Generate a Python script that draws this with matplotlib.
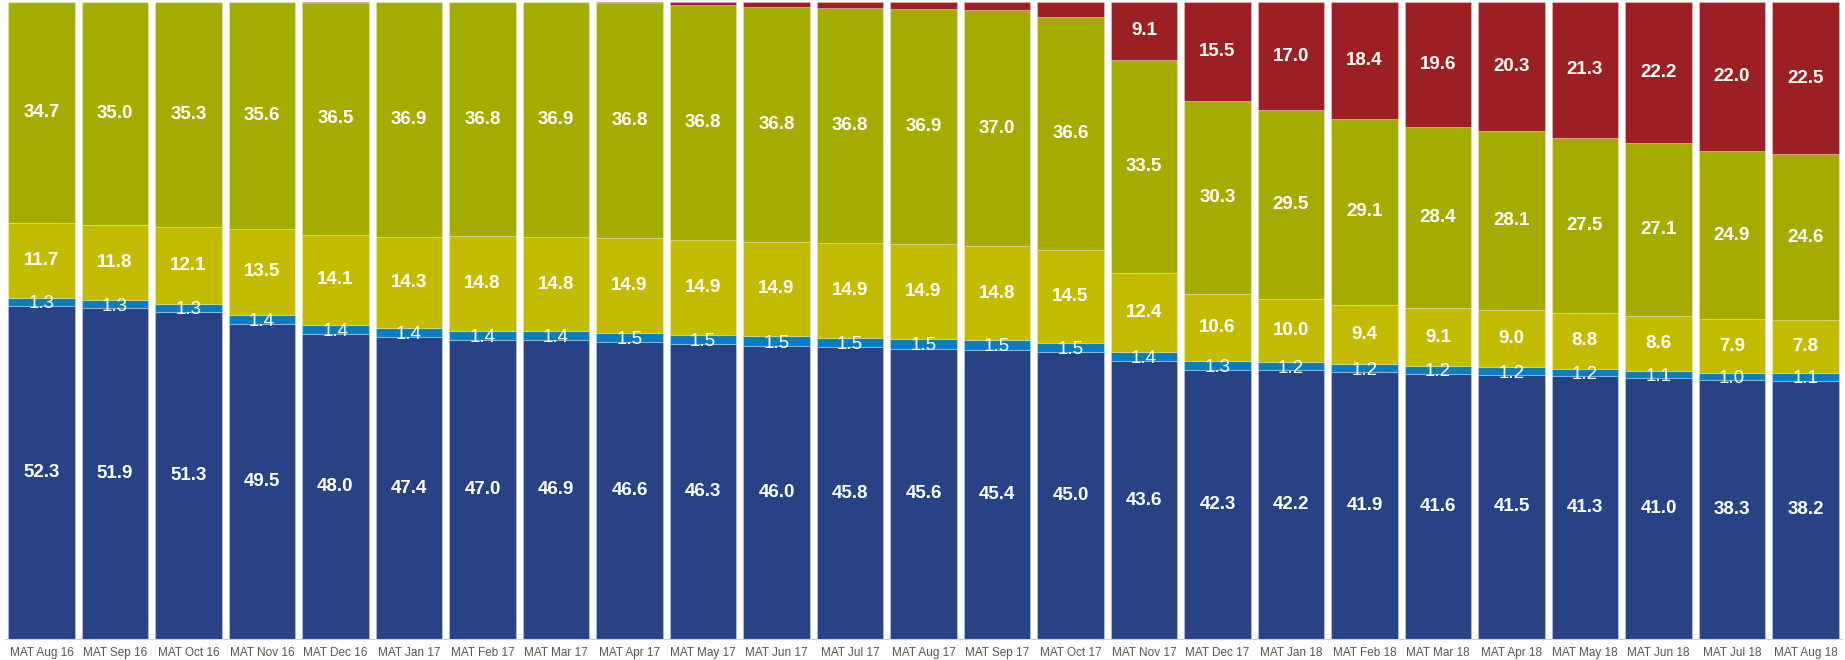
import numpy as np
import matplotlib.pyplot as plt

plt.rcParams['font.family'] = ['Liberation Sans', 'DejaVu Sans']

# periods
labels = ['MAT Aug 16', 'MAT Sep 16', 'MAT Oct 16', 'MAT Nov 16', 'MAT Dec 16',
          'MAT Jan 17', 'MAT Feb 17', 'MAT Mar 17', 'MAT Apr 17', 'MAT May 17',
          'MAT Jun 17', 'MAT Jul 17', 'MAT Aug 17', 'MAT Sep 17', 'MAT Oct 17',
          'MAT Nov 17', 'MAT Dec 17', 'MAT Jan 18', 'MAT Feb 18', 'MAT Mar 18',
          'MAT Apr 18', 'MAT May 18', 'MAT Jun 18', 'MAT Jul 18', 'MAT Aug 18']

# series, bottom to top
dark_blue = [52.3, 51.9, 51.3, 49.5, 48.0, 47.4, 47.0, 46.9, 46.6, 46.3, 46.0, 45.8, 45.6,
             45.4, 45.0, 43.6, 42.3, 42.2, 41.9, 41.6, 41.5, 41.3, 41.0, 38.3, 38.2]
light_blue = [1.3, 1.3, 1.3, 1.4, 1.4, 1.4, 1.4, 1.4, 1.5, 1.5, 1.5, 1.5, 1.5,
              1.5, 1.5, 1.4, 1.3, 1.2, 1.2, 1.2, 1.2, 1.2, 1.1, 1.0, 1.1]
yellow = [11.7, 11.8, 12.1, 13.5, 14.1, 14.3, 14.8, 14.8, 14.9, 14.9, 14.9, 14.9, 14.9,
          14.8, 14.5, 12.4, 10.6, 10.0, 9.4, 9.1, 9.0, 8.8, 8.6, 7.9, 7.8]
olive = [34.7, 35.0, 35.3, 35.6, 36.5, 36.9, 36.8, 36.9, 36.8, 36.8, 36.8, 36.8, 36.9,
         37.0, 36.6, 33.5, 30.3, 29.5, 29.1, 28.4, 28.1, 27.5, 27.1, 24.9, 24.6]
red = [0.0, 0.0, 0.0, 0.0, 0.1, 0.0, 0.0, 0.0, 0.2, 0.5, 0.8, 1.0, 1.1,
       1.3, 2.4, 9.1, 15.5, 17.0, 18.4, 19.6, 20.3, 21.3, 22.2, 22.0, 22.5]

series = [dark_blue, light_blue, yellow, olive, red]
colors = ['#284285', '#0a7dc2', '#c2bb00', '#a4ac00', '#9c1f24']

data = np.array(series)
totals = data.sum(axis=0)
pct = data / totals * 100.0

fig = plt.figure(figsize=(18.45, 6.6), dpi=100)
ax = fig.add_axes([4.7 / 1845, 21 / 660, 1837.5 / 1845, 637 / 660])

x = np.arange(len(labels))
bottom = np.zeros(len(labels))
for i, (vals, col) in enumerate(zip(pct, colors)):
    ax.bar(x, vals, bottom=bottom, width=0.91, color=col,
           edgecolor=(1, 1, 1, 0.25), linewidth=0.8)
    for j in range(len(labels)):
        raw = data[i][j]
        if i == 1:
            ax.text(x[j], bottom[j] + vals[j] / 2 - 0.3, f'{raw:.1f}', ha='center',
                    va='center', color='white', fontsize=13.5)
        elif raw >= 5:
            ax.text(x[j], bottom[j] + vals[j] / 2, f'{raw:.1f}', ha='center',
                    va='center', color='white', fontsize=13.5, fontweight='bold')
    bottom += vals

ax.set_xlim(-0.5, len(labels) - 0.5)
ax.set_ylim(0, 100)
ax.set_yticks([])
ax.set_xticks(x)
ax.set_xticklabels(labels, fontsize=8.5, color='#555555')
ax.tick_params(axis='x', length=0, pad=6)
for s in ['top', 'left', 'right']:
    ax.spines[s].set_visible(False)
ax.spines['bottom'].set_color('#d0d0d0')

fig.savefig('out.png', dpi=100)
